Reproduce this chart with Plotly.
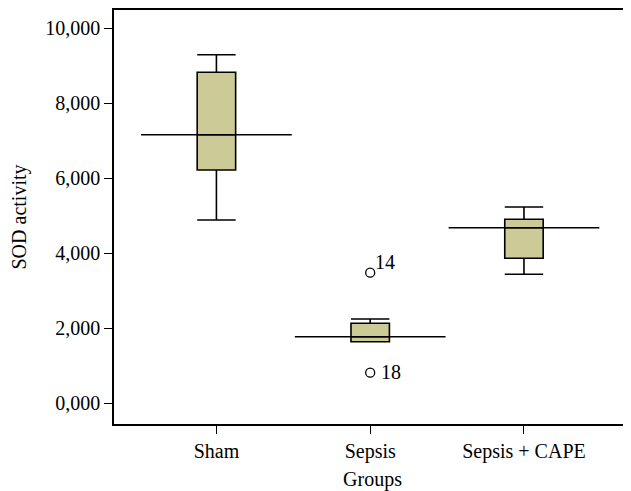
import plotly.graph_objects as go

categories = ["Sham", "Sepsis", "Sepsis + CAPE"]
lower_whisker = [4880, 1635, 3432]
q1_values = [6213, 1635, 3859]
median_values = [7155, 1768, 4675]
q3_values = [8819, 2125, 4899]
upper_whisker = [9288, 2240, 5227]

outlier_group = [1, 1]
outlier_values = [3475, 808]
outlier_labels = ["14", "18"]

y_tick_vals = [0, 2000, 4000, 6000, 8000, 10000]
y_tick_text = ["0,000", "2,000", "4,000", "6,000", "8,000", "10,000"]

FONT = "Liberation Serif, Times New Roman, serif"
FS = 20
positions = list(range(len(categories)))

fig = go.Figure()

fig.add_trace(go.Box(
    x=positions,
    q1=q1_values,
    median=median_values,
    q3=q3_values,
    lowerfence=lower_whisker,
    upperfence=upper_whisker,
    width=0.25,
    whiskerwidth=1,
    boxpoints=False,
    fillcolor="#CCCA96",
    line=dict(color="black", width=1.6),
    showlegend=False,
    hoverinfo="skip",
))

# long median reference lines
for p, m in zip(positions, median_values):
    fig.add_trace(go.Scatter(
        x=[p - 0.49, p + 0.49], y=[m, m], mode="lines",
        line=dict(color="black", width=1.4),
        showlegend=False, hoverinfo="skip",
    ))

fig.add_trace(go.Scatter(
    x=outlier_group, y=outlier_values, mode="markers",
    marker=dict(symbol="circle-open", size=9, color="black", line=dict(width=1.3)),
    showlegend=False, hoverinfo="skip",
))

for xg, yv, lab, dx, dy in zip(outlier_group, outlier_values, outlier_labels, [3, 9], [11, 1]):
    fig.add_annotation(
        x=xg, y=yv, text=lab, showarrow=False, xanchor="left", yanchor="middle",
        xshift=dx, yshift=dy, font=dict(family=FONT, size=FS, color="black"),
    )

# page body has an 8px default margin, so the figure is sized to fit the window
fig.update_layout(
    width=623, height=483,
    margin=dict(l=106, r=0, t=2, b=67),
    paper_bgcolor="white", plot_bgcolor="white",
    font=dict(family=FONT, size=FS, color="black"),
)

fig.update_xaxes(
    range=[-0.666, 2.696], automargin=False,
    tickmode="array", tickvals=positions, ticktext=categories,
    showline=True, linecolor="black", linewidth=1.5, mirror=True,
    ticks="outside", ticklen=8, tickwidth=1.3, tickcolor="black",
    showgrid=False, zeroline=False,
    title=dict(text="Groups", standoff=11, font=dict(family=FONT, size=FS)),
    tickfont=dict(family=FONT, size=FS),
)

fig.update_yaxes(
    range=[-560, 10480], automargin=False,
    tickmode="array", tickvals=y_tick_vals, ticktext=y_tick_text,
    showline=True, linecolor="black", linewidth=1.5,
    ticks="outside", ticklen=8, tickwidth=1.3, tickcolor="black",
    showgrid=False, zeroline=False,
    title=dict(text="SOD activity", standoff=13, font=dict(family=FONT, size=FS)),
    tickfont=dict(family=FONT, size=FS),
)

fig.write_html("out.html")
